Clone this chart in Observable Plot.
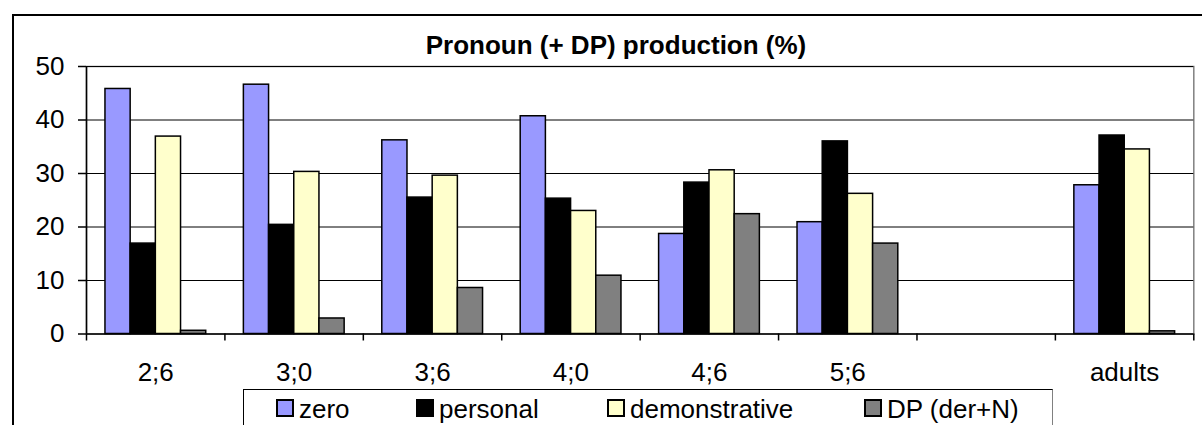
<!DOCTYPE html>
<html>
<head>
<meta charset="utf-8">
<script src="https://cdn.jsdelivr.net/npm/d3@7"></script>
<script src="https://cdn.jsdelivr.net/npm/@observablehq/plot@0.6"></script>
<style>
  html, body { margin: 0; padding: 0; background: #fff; }
  #wrap { position: relative; width: 1202px; height: 425px; overflow: hidden; background: #fff;
          font-family: "Liberation Sans", Arial, sans-serif; color: #000; }
  #outer { position: absolute; left: 12px; top: 14px; width: 1300px; height: 600px; border: 2px solid #000; box-sizing: border-box; }
  #title { position: absolute; left: 0; top: 32px; width: 1232px; text-align: center; font-weight: bold; font-size: 26px; line-height: 26px; white-space: nowrap; }
  #chart { position: absolute; left: 0; top: 0; }
  #legend { position: absolute; left: 243px; top: 389px; width: 810px; height: 100px; border: 1px solid #000; border-right-color: #808080; box-sizing: border-box; }
  .item { position: absolute; top: 396px; font-size: 26px; line-height: 26px; white-space: nowrap; }
  .sw { position: absolute; top: 399px; width: 18px; height: 18px; border: 2px solid #000; box-sizing: border-box; }
</style>
</head>
<body>
<div id="wrap">
  <div id="outer"></div>
  <div id="title">Pronoun (+ DP) production (%)</div>
  <div id="chart"></div>
  <div id="legend"></div>
</div>
<script>
// ---- data ----
const categories = ["2;6", "3;0", "3;6", "4;0", "4;6", "5;6", "", "adults"];
const series = ["zero", "personal", "demonstrative", "DP (der+N)"];
const zero          = [45.8, 46.6, 36.2, 40.7, 18.7, 20.9, null, 27.8];
const personal      = [16.9, 20.4, 25.5, 25.3, 28.3, 36.0, null, 37.1];
const demonstrative = [36.9, 30.3, 29.6, 23.0, 30.6, 26.2, null, 34.5];
const dpDerN        = [0.6, 2.9, 8.6, 10.9, 22.4, 16.9, null, 0.5];
const colors = ["#9999FF", "#000000", "#FFFFCC", "#808080"];
const yTicks = [0, 10, 20, 30, 40, 50];

const seriesValues = [zero, personal, demonstrative, dpDerN];
const rows = [];
categories.forEach((c, ci) => {
  seriesValues.forEach((vals, si) => {
    if (vals[ci] != null) rows.push({ci, si, category: c, series: series[si], value: vals[ci]});
  });
});

// group layout within each category slot (fractions of a slot)
const groupPad = 0.137, barW = 0.182;

const W = 1202, H = 390;
const chart = Plot.plot({
  width: W,
  height: H,
  marginTop: 66,
  marginBottom: H - 333.5,
  marginLeft: 86,
  marginRight: 8.7,
  style: {background: "transparent", fontFamily: "'Liberation Sans', Arial, sans-serif", fontSize: "26px", color: "#000"},
  x: {domain: [0, categories.length]},
  y: {domain: [0, 50]},
  color: {domain: series, range: colors},
  marks: [
    Plot.frame({stroke: "#808080", strokeWidth: 1.5}),
    Plot.ruleY(yTicks.filter(t => t > 0), {stroke: "#000", strokeWidth: 1}),
    Plot.rectY(rows, {
      x1: d => d.ci + groupPad + d.si * barW,
      x2: d => d.ci + groupPad + (d.si + 1) * barW,
      y: "value",
      fill: "series",
      stroke: "#000",
      strokeWidth: 1.5
    }),
    Plot.ruleY([0], {stroke: "#000", strokeWidth: 1.5}),
    Plot.ruleX([0], {stroke: "#000", strokeWidth: 1.5}),
    Plot.axisY({ticks: yTicks, tickSize: 8, tickPadding: 14, label: null, fontSize: 26, strokeWidth: 1.5}),
    Plot.axisX({ticks: d3.range(0, categories.length + 1), tickSize: 7, tickFormat: () => "", label: null, strokeWidth: 1.5}),
    Plot.axisX({ticks: d3.range(categories.length).map(i => i + 0.5), tickSize: 0, tickPadding: 29,
                tickFormat: t => categories[Math.floor(t)], label: null, fontSize: 26})
  ]
});
document.getElementById("chart").appendChild(chart);

// legend
const wrap = document.getElementById("wrap");
const swatchX = [276, 416, 607, 864];
series.forEach((s, i) => {
  const sw = document.createElement("div");
  sw.className = "sw";
  sw.style.left = swatchX[i] + "px";
  sw.style.background = colors[i];
  wrap.appendChild(sw);
  const t = document.createElement("div");
  t.className = "item";
  t.style.left = (swatchX[i] + 23) + "px";
  t.textContent = s;
  wrap.appendChild(t);
});
</script>
</body>
</html>
